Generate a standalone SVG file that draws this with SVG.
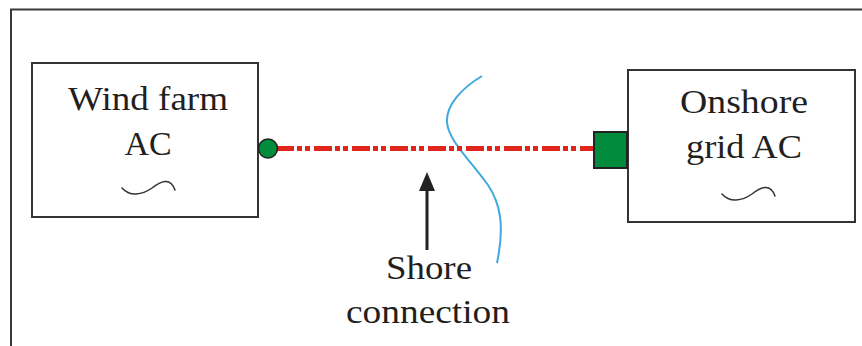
<svg xmlns="http://www.w3.org/2000/svg" width="862" height="346" viewBox="0 0 862 346">
  <style>
    .box { fill: #ffffff; stroke: #333333; stroke-width: 2; }
    .lbl { font-family: "Liberation Serif", "Times New Roman", serif; font-size: 34px; fill: #231f20; text-anchor: middle; }
    .tilde { fill: none; stroke: #333333; stroke-width: 1.5; stroke-linecap: round; }
    .frame { fill: none; stroke: #3a3a3a; stroke-width: 2; }
  </style>
  <rect x="0" y="0" width="862" height="346" fill="#ffffff"/>
  <path class="frame" d="M11,346 L11,9.5 L862,9.5"/>

  <g id="wind-farm">
    <rect class="box" x="32" y="63" width="226" height="154"/>
    <text class="lbl" x="148" y="110" textLength="160" lengthAdjust="spacingAndGlyphs">Wind farm</text>
    <text class="lbl" x="148" y="155">AC</text>
    <path class="tilde" d="M122,188 C130,197 142,195 152,188 C160,182 170,176 175,190"/>
  </g>

  <g id="onshore-grid">
    <rect class="box" x="628" y="70" width="227" height="152"/>
    <text class="lbl" x="744" y="113" textLength="128" lengthAdjust="spacingAndGlyphs">Onshore</text>
    <text class="lbl" x="744" y="158" textLength="116" lengthAdjust="spacingAndGlyphs">grid AC</text>
    <path class="tilde" d="M722,194 C730,203 742,201 752,194 C760,188 770,182 775,196"/>
  </g>

  <g id="shore-line">
    <path d="M482,76 C462,88 446,105 447,122 C448,140 470,160 488,185 C500,203 505,225 497,263" fill="none" stroke="#3fa9e0" stroke-width="2"/>
  </g>

  <g id="connectors">
    <line x1="276" y1="148.5" x2="594" y2="148.5" stroke="#e0251b" stroke-width="5" stroke-dasharray="18 3 5 3 5 4"/>
    <circle cx="268" cy="148.5" r="9.5" fill="#008c3c" stroke="#222222" stroke-width="1.5"/>
    <rect x="594" y="132" width="33" height="36" fill="#008c3c" stroke="#222222" stroke-width="2"/>
    <line x1="427" y1="250" x2="427" y2="186" stroke="#222222" stroke-width="3"/>
    <polygon points="427,172 419,191 435,191" fill="#222222"/>
  </g>

  <g id="shore-connection-label">
    <text class="lbl" x="429" y="279" textLength="86" lengthAdjust="spacingAndGlyphs">Shore</text>
    <text class="lbl" x="428" y="323" textLength="164" lengthAdjust="spacingAndGlyphs">connection</text>
  </g>
</svg>
